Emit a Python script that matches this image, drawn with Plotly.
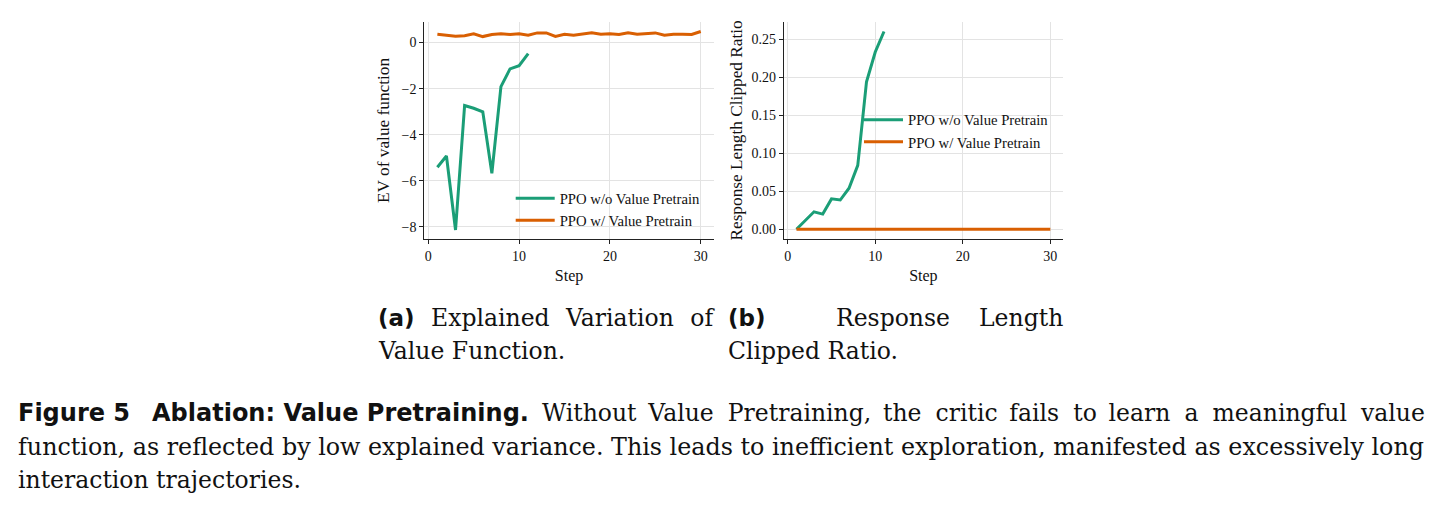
import plotly.graph_objects as go

W, H = 1442, 508

# ---------------- data ----------------
steps = list(range(1, 31))
steps_wo = list(range(1, 12))

ev_wo_pretrain = [-5.41, -4.92, -8.13, -2.73, -2.85, -3.00, -5.67, -1.91, -1.14, -1.00, -0.48]
ev_w_pretrain = [0.36, 0.30, 0.27, 0.30, 0.38, 0.26, 0.35, 0.38, 0.35, 0.38,
                 0.32, 0.42, 0.42, 0.27, 0.36, 0.32, 0.38, 0.43, 0.36, 0.38,
                 0.35, 0.43, 0.36, 0.40, 0.42, 0.32, 0.36, 0.36, 0.35, 0.48]

clip_wo_pretrain = [0.000, 0.011, 0.023, 0.020, 0.040, 0.0385, 0.054, 0.084, 0.194, 0.233, 0.260]
clip_w_pretrain = [0.0, 0.0, 0.0, 0.0, 0.0, 0.0, 0.0, 0.0, 0.0, 0.0,
                   0.0, 0.0, 0.0, 0.0, 0.0, 0.0, 0.0, 0.0, 0.0, 0.0,
                   0.0, 0.0, 0.0, 0.0, 0.0, 0.0, 0.0, 0.0, 0.0, 0.0]

series_names = ["PPO w/o Value Pretrain", "PPO w/ Value Pretrain"]
x_ticks = [0, 10, 20, 30]
ev_ticks = [0, -2, -4, -6, -8]
clip_ticks = [0.00, 0.05, 0.10, 0.15, 0.20, 0.25]

GREEN = "#1b9e77"
ORANGE = "#d95f02"
SERIF = "Liberation Serif"
CAPSERIF = "DejaVu Serif"
SANS = "DejaVu Sans"

def px_x(p):
    return p / W

def px_y(p):
    return (H - p) / H

fig = go.Figure()

# panel (a)
fig.add_trace(go.Scatter(x=steps_wo, y=ev_wo_pretrain, mode="lines", name=series_names[0],
                         line=dict(color=GREEN, width=3), xaxis="x", yaxis="y", legend="legend"))
fig.add_trace(go.Scatter(x=steps, y=ev_w_pretrain, mode="lines", name=series_names[1],
                         line=dict(color=ORANGE, width=3), xaxis="x", yaxis="y", legend="legend"))
# panel (b)
fig.add_trace(go.Scatter(x=steps_wo, y=clip_wo_pretrain, mode="lines", name=series_names[0],
                         line=dict(color=GREEN, width=3), xaxis="x2", yaxis="y2", legend="legend2"))
fig.add_trace(go.Scatter(x=steps, y=clip_w_pretrain, mode="lines", name=series_names[1],
                         line=dict(color=ORANGE, width=3), xaxis="x2", yaxis="y2", legend="legend2"))

ydom = [px_y(239.2), px_y(21.6)]
common_axis = dict(showline=True, linecolor="#222222", linewidth=1, ticks="outside", ticklen=4,
                   tickwidth=1, tickcolor="#222222", showgrid=True, gridcolor="#e3e3e3", gridwidth=1,
                   zeroline=False, automargin=False,
                   tickfont=dict(family=SERIF, size=14, color="#111111"))

fig.update_layout(
    width=W, height=H,
    margin=dict(l=0, r=0, t=0, b=0),
    paper_bgcolor="white", plot_bgcolor="white",
    font=dict(family=SERIF, color="#111111"),
    showlegend=True,
    xaxis=dict(domain=[px_x(424.2), px_x(713.9)], range=[-0.45, 31.45], tickvals=x_ticks,
               anchor="y", title=dict(text="Step", font=dict(family=SERIF, size=16), standoff=6),
               **common_axis),
    yaxis=dict(domain=ydom, range=[-8.53, 0.91], tickvals=ev_ticks, anchor="x",
               title=dict(text="EV of value function", font=dict(family=SERIF, size=17.3), standoff=7),
               **common_axis),
    xaxis2=dict(domain=[px_x(783.8), px_x(1063.0)], range=[-0.45, 31.45], tickvals=x_ticks,
                anchor="y2", title=dict(text="Step", font=dict(family=SERIF, size=16), standoff=6),
                **common_axis),
    yaxis2=dict(domain=ydom, range=[-0.013, 0.273], tickvals=clip_ticks, tickformat=".2f",
                anchor="x2",
                title=dict(text="Response Length Clipped Ratio", font=dict(family=SERIF, size=17.3), standoff=4),
                **common_axis),
    legend=dict(x=px_x(510.7), y=px_y(182.1), xanchor="left", yanchor="top",
                bgcolor="rgba(255,255,255,0)", borderwidth=0, itemwidth=39,
                font=dict(family=SERIF, size=14.7, color="#111111")),
    legend2=dict(x=px_x(859.0), y=px_y(103.7), xanchor="left", yanchor="top",
                 bgcolor="rgba(255,255,255,0)", borderwidth=0, itemwidth=39,
                 font=dict(family=SERIF, size=14.7, color="#111111")),
)

CAP = 23.5
EN = "\u2002"
HAIR = "\u200a"
WIDE2 = "\u2002\u2009"

def ann(text, x, baseline, anchor="left", family=CAPSERIF, size=CAP, bold=False):
    fig.add_annotation(text=("<b>%s</b>" % text) if bold else text,
                       x=px_x(x), y=px_y(baseline - 0.32 * size), xref="paper", yref="paper",
                       xanchor=anchor, yanchor="middle", showarrow=False,
                       font=dict(family=family, size=size, color="#111111"))

# sub-captions
ann("(a)", 376, 325.7, family=SANS, size=23, bold=True)
ann(WIDE2.join(["Explained", "Variation", "of"]), 717, 325.7, anchor="right")
ann("Value Function.", 376, 359)
ann("(b)", 726, 325.7, family=SANS, size=23, bold=True)
ann("Response", 834, 325.7)
ann("Length", 1065, 325.7, anchor="right")
ann("Clipped Ratio.", 726, 359)

# figure caption
ann("Figure 5", 16, 421, family=SANS, size=24, bold=True)
ann("Ablation: Value Pretraining.", 150, 421, family=SANS, size=24, bold=True)
line1 = ["Without", "Value", "Pretraining,", "the", "critic", "fails", "to", "learn", "a",
         "meaningful", "value"]
text1 = ""
for i, w in enumerate(line1):
    if i > 0:
        text1 += EN + (HAIR if i % 2 == 0 or i == 9 else "")
    text1 += w
ann(text1, 1427, 421, anchor="right")
ann("function, as reflected by low explained variance. This leads to inefficient exploration, "
    "manifested as excessively long", 16, 454.3, size=23.8)
ann("interaction trajectories.", 16, 487.3)

fig.write_html("out.html")
